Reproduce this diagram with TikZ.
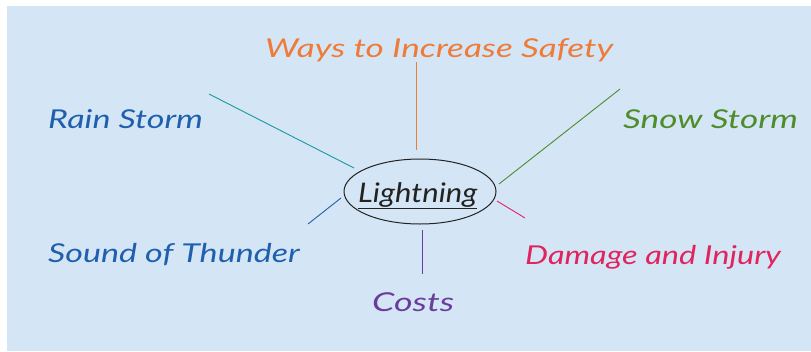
\documentclass[tikz,border=0pt]{standalone}
\usepackage{fontspec}
\usetikzlibrary{shapes.geometric}
\setmainfont{Lato}
\definecolor{bg}{HTML}{D4E6F5}
\definecolor{corange}{HTML}{EE7B3A}
\definecolor{cteal}{HTML}{1A98A0}
\definecolor{cgreen}{HTML}{4E8C2C}
\definecolor{cblue}{HTML}{1F5FAD}
\definecolor{ccrimson}{HTML}{E0245E}
\definecolor{cpurple}{HTML}{6A3C9C}
\definecolor{cdark}{HTML}{222222}
\newcommand{\hwtext}[2][1.34]{\scalebox{#1}[1]{#2}}
\tikzset{
  lbl/.style={inner sep=0pt, anchor=base west, font=\fontsize{26}{28}\selectfont\itshape},
  spoke/.style={line width=0.9pt},
}
\begin{document}
\begin{tikzpicture}[x=1pt,y=-1pt]
\useasboundingbox (0,0) rectangle (811,351);
\fill[bg] (7,6) rectangle (811,351);
% centre
\node[draw=cdark, line width=1pt, ellipse, minimum width=152pt, minimum height=65pt, inner sep=0pt] (c) at (420,191.5) {};
\node[inner sep=0pt, anchor=base west, text=cdark, font=\fontsize{27}{30}\selectfont\itshape] (lt) at (358,202) {\scalebox{1.15}[1]{\underline{Lightning}}};
% labels
\node[lbl, text=corange] (ways) at (265,57) {\hwtext[1.35]{Ways to Increase Safety}};
\node[lbl, text=cblue] (rain) at (48,128) {\hwtext[1.31]{Rain Storm}};
\node[lbl, text=cgreen] (snow) at (623,128) {\hwtext[1.35]{Snow Storm}};
\node[lbl, text=cblue] (sound) at (48,262) {\hwtext[1.31]{Sound of Thunder}};
\node[lbl, text=ccrimson] (dmg) at (525,264) {\hwtext[1.25]{Damage and Injury}};
\node[lbl, text=cpurple] (costs) at (372,311) {\hwtext[1.38]{Costs}};
% spoke ends
\coordinate (w1) at (416,62);  \coordinate (w2) at (416,150);
\coordinate (r1) at (209,94);  \coordinate (r2) at (354,168);
\coordinate (s1) at (620,89);  \coordinate (s2) at (499,184);
\coordinate (t1) at (341,198); \coordinate (t2) at (308,224);
\coordinate (d1) at (497,201); \coordinate (d2) at (525,218);
\coordinate (k1) at (422,230); \coordinate (k2) at (422,274);
\draw[spoke, corange] (w1) -- (w2);
\draw[spoke, cteal] (r1) -- (r2);
\draw[spoke, cgreen] (s1) -- (s2);
\draw[spoke, cblue] (t1) -- (t2);
\draw[spoke, ccrimson] (d1) -- (d2);
\draw[spoke, cpurple] (k1) -- (k2);
\end{tikzpicture}
\end{document}
